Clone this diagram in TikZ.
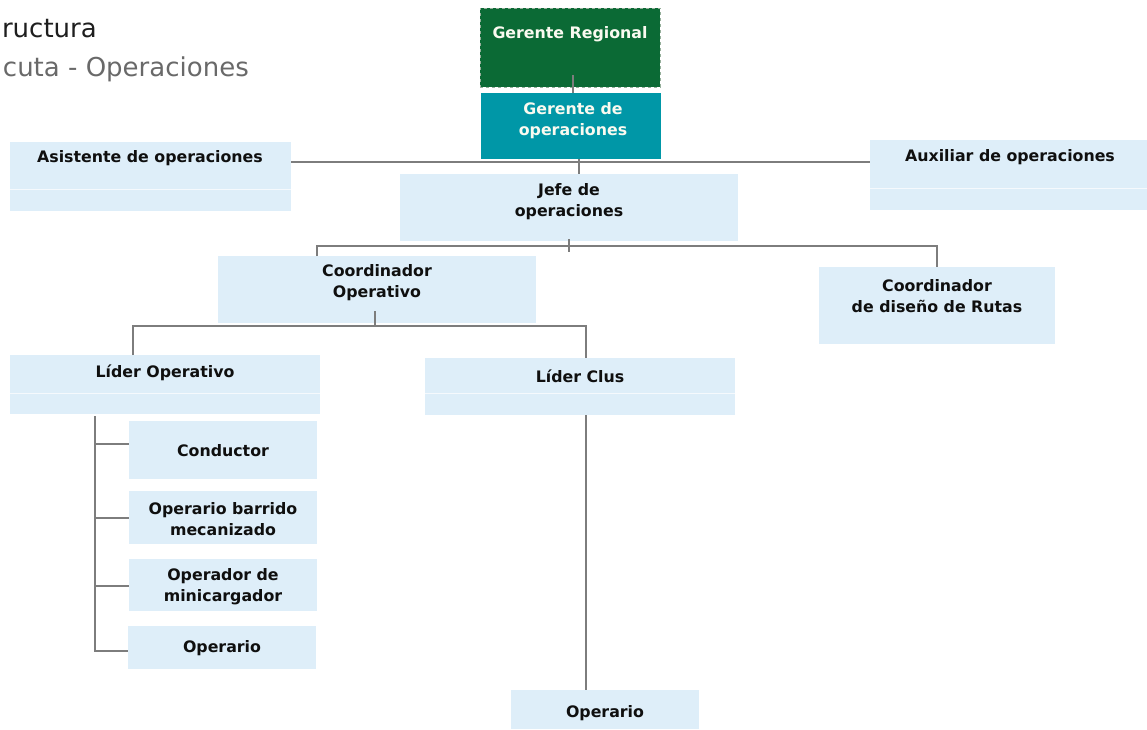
\documentclass[tikz,border=0pt]{standalone}
\usepackage{fontspec}
\setmainfont{DejaVu Sans}
\definecolor{boxblue}{RGB}{222,238,249}
\definecolor{grgreen}{RGB}{11,106,53}
\definecolor{goteal}{RGB}{0,151,167}
\definecolor{linegray}{RGB}{125,125,125}
\definecolor{dashgray}{RGB}{150,175,155}
\definecolor{titleblack}{RGB}{30,30,30}
\definecolor{titlegray}{RGB}{105,105,105}
\definecolor{txtblack}{RGB}{15,15,15}
\definecolor{txtwhite}{RGB}{250,250,240}
\begin{document}
\begin{tikzpicture}[x=1pt,y=-1pt,
  box/.style={anchor=north west, fill=boxblue, draw=none, inner sep=0pt, outer sep=0pt},
  lbl/.style={align=center, inner sep=0pt, text=txtblack, font=\bfseries\fontsize{15.8}{21}\selectfont},
  conn/.style={draw=linegray, line width=1.3pt},
  sepline/.style={draw=white, line width=1pt, opacity=0.7},
  ttl/.style={anchor=base east, inner sep=0pt, font=\fontsize{26}{30}\selectfont}]
\useasboundingbox (0,0) rectangle (1147,729);

% title
\node[ttl, text=titleblack] (t1) at (97,37) {ructura};
\node[ttl, text=titlegray] (t2) at (249,76) {cuta - Operaciones};

% boxes
\node[box, fill=grgreen, draw=dashgray, dashed, line width=0.8pt, minimum width=180pt, minimum height=79pt] (GR) at (480,8) {};
\node[box, fill=goteal, minimum width=180pt, minimum height=66pt] (GO) at (481,93) {};
\node[box, minimum width=281pt, minimum height=69pt] (AS) at (10,142) {};
\node[box, minimum width=277pt, minimum height=70pt] (AU) at (870,140) {};
\node[box, minimum width=338pt, minimum height=67pt] (JO) at (400,174) {};
\node[box, minimum width=318pt, minimum height=67pt] (CO) at (218,256) {};
\node[box, minimum width=236pt, minimum height=77pt] (CR) at (819,267) {};
\node[box, minimum width=310pt, minimum height=59pt] (LO) at (10,355) {};
\node[box, minimum width=310pt, minimum height=57pt] (LC) at (425,358) {};
\node[box, minimum width=188pt, minimum height=58pt] (C1) at (129,421) {};
\node[box, minimum width=188pt, minimum height=53pt] (C2) at (129,491) {};
\node[box, minimum width=188pt, minimum height=52pt] (C3) at (129,559) {};
\node[box, minimum width=188pt, minimum height=43pt] (C4) at (128,626) {};
\node[box, minimum width=188pt, minimum height=39pt] (OP) at (511,690) {};

% separators
\coordinate (s1) at (0,189);
\coordinate (s2) at (0,188);
\coordinate (s3) at (0,393);
\draw[sepline] (AS.west |- s1) -- (AS.east |- s1);
\draw[sepline] (AU.west |- s2) -- (AU.east |- s2);
\draw[sepline] (LO.west |- s3) -- (LO.east |- s3);
\draw[sepline] (LC.west |- s3) -- (LC.east |- s3);

% labels
\node[lbl, text=txtwhite] (tGR) at (570,34) {Gerente Regional};
\node[lbl, text=txtwhite] (tGO) at (573,121) {Gerente de\\operaciones};
\node[lbl] (tAS) at (150,158) {Asistente de operaciones};
\node[lbl] (tAU) at (1010,157) {Auxiliar de operaciones};
\node[lbl] (tJO) at (569,202) {Jefe de\\operaciones};
\node[lbl] (tCO) at (377,283) {Coordinador\\Operativo};
\node[lbl] (tCR) at (937,296) {Coordinador\\de diseño de Rutas};
\node[lbl] (tLO) at (165,373) {Líder Operativo};
\node[lbl] (tLC) at (580,376) {Líder Clus};
\node[lbl] (tC1) at (223,451) {Conductor};
\node[lbl] (tC2) at (223,519) {Operario barrido\\mecanizado};
\node[lbl] (tC3) at (223,587) {Operador de\\minicargador};
\node[lbl] (tC4) at (222,648) {Operario};
\node[lbl] (tOP) at (605,713) {Operario};

% connectors
\coordinate (gx) at (573,75);
\draw[conn] (gx) -- (GO.north -| gx);
\coordinate (jx) at (579,162);
\draw[conn] (GO.south -| jx) -- (JO.north -| jx);
\draw[conn] (AS.east |- jx) -- (AU.west |- jx);

\coordinate (jt) at (569,239);
\coordinate (jd) at (569,252);
\draw[conn] (jt) -- (jd);
\coordinate (c1) at (317,246);
\coordinate (c2) at (937,246);
\draw[conn] (CO.north -| c1) -- (c1) -- (c2) -- (CR.north -| c2);

\coordinate (k00) at (375,311);
\coordinate (k0) at (375,326);
\draw[conn] (k00) -- (k0);
\coordinate (k1) at (133,326);
\coordinate (k2) at (586,326);
\draw[conn] (LO.north -| k1) -- (k1) -- (k2) -- (LC.north -| k2);
\draw[conn] (LC.south -| k2) -- (OP.north -| k2);

\coordinate (v) at (95,416);
\coordinate (b1) at (95,444);
\coordinate (b2) at (95,518);
\coordinate (b3) at (95,586);
\coordinate (b4) at (95,651);
\draw[conn] (v) -- (b4) -- (C4.west |- b4);
\draw[conn] (b1) -- (C1.west |- b1);
\draw[conn] (b2) -- (C2.west |- b2);
\draw[conn] (b3) -- (C3.west |- b3);
\end{tikzpicture}
\end{document}
